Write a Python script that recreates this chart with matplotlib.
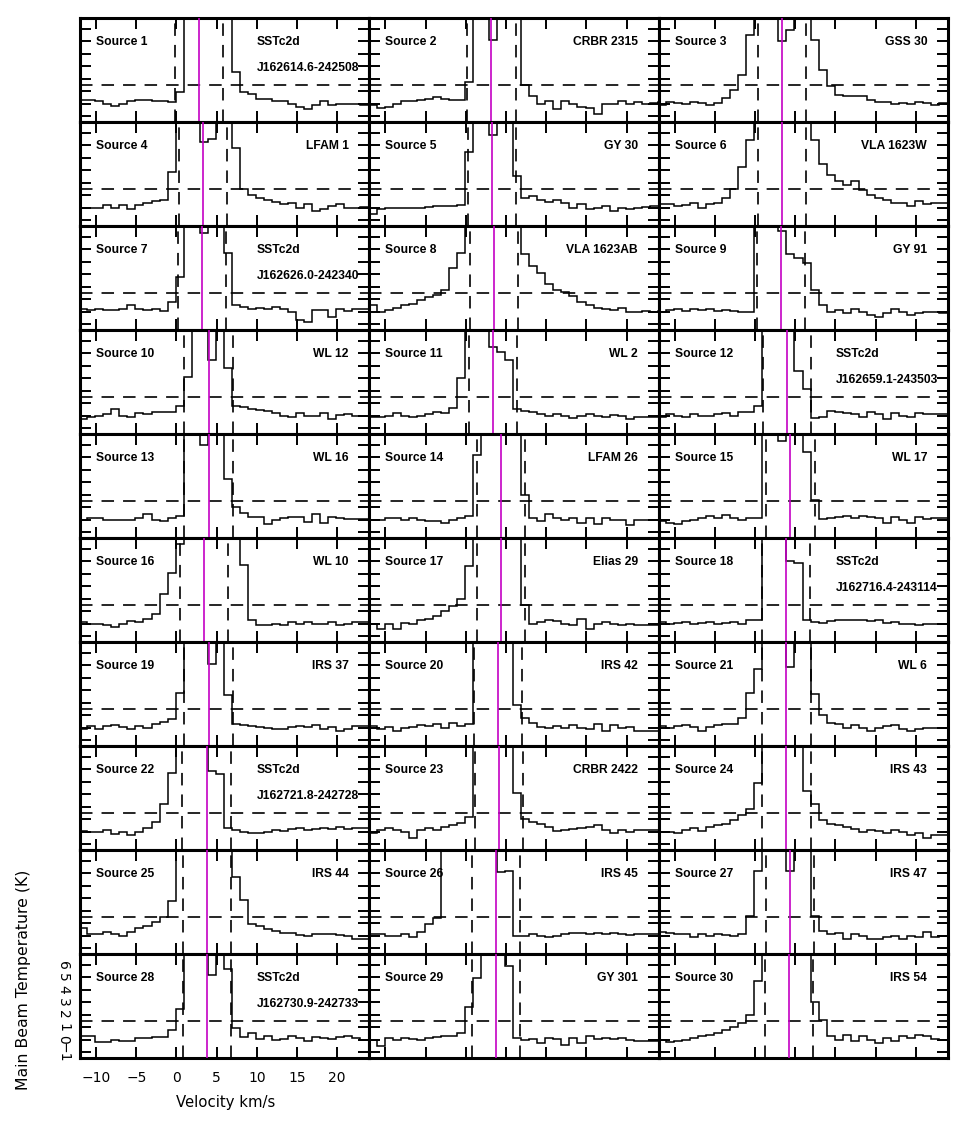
import numpy as np
import matplotlib
matplotlib.use("Agg")
import matplotlib.pyplot as plt

plt.rcParams['lines.scale_dashes'] = False

# channel centres (km/s)
velocity = [-11.6, -10.6, -9.6, -8.6, -7.6, -6.6, -5.6, -4.6, -3.6, -2.6, -1.6, -0.6,
            0.4, 1.4, 2.4, 3.4, 4.4, 5.4, 6.4, 7.4, 8.4, 9.4, 10.4, 11.4, 12.4, 13.4,
            14.4, 15.4, 16.4, 17.4, 18.4, 19.4, 20.4, 21.4, 22.4, 23.4, 24.4]

source_01 = [0.3,0.3,0.2,0.0,-0.2,0.0,0.2,0.25,0.3,0.2,0.2,0.1,0.9,8,8,8,8,8,8,2.5,0.9,0.75,0.35,0.35,0.2,0.2,0.0,-0.3,-0.4,-0.15,0.2,-0.15,0.0,0.0,0.0,-0.1,0.0]
source_02 = [-0.15,-0.35,-0.3,0.0,0.2,0.2,0.3,0.35,0.5,0.35,0.25,0.25,1.7,8,8,5.1,8,8,8,1.5,0.6,0.0,0.2,-0.4,0.2,0.0,-0.3,-0.35,-0.8,0.0,0.0,0.2,0.0,0.1,0.0,0.05,0.1]
source_03 = [-0.1,0.15,0.05,0.0,0.15,0.05,-0.1,0.05,0.45,1.1,2.3,5.5,8,8,8,5.0,5.9,8,8,5.1,2.7,1.4,0.7,0.65,0.65,0.6,0.3,0.15,0.15,0.0,0.05,0.0,0.15,0.05,-0.15,0.05,0.05]
source_04 = [0.0,0.0,0.0,0.2,-0.05,0.2,-0.1,0.2,0.35,0.5,0.6,2.9,8,8,8,5.3,5.55,8,8,4.8,1.5,1.0,0.8,0.6,0.45,0.25,0.35,0.0,0.25,-0.3,-0.1,0.1,0.25,0.0,0.0,0.05,0.0]
source_05 = [-0.5,-0.1,0.0,0.0,0.0,-0.05,0.0,0.05,0.1,0.1,0.15,0.2,4.5,8,8,5.8,8,8,2.5,0.75,0.9,0.65,0.45,0.65,0.35,0.0,0.25,-0.15,0.0,0.1,-0.3,0.0,-0.15,0.0,0.05,0.1,0.1]
source_06 = [0.3,0.25,0.1,0.2,0.35,0.0,0.25,0.35,0.8,1.5,3.3,5.4,8,8,8,8,8,8,8,5.4,3.5,2.6,2.1,1.8,2.1,1.4,1.0,0.8,0.6,0.35,0.35,0.1,0.5,0.25,0.35,0.35,0.4]
source_07 = [0.2,0.1,0.2,0.1,0.1,0.2,0.5,0.2,0.1,0.2,0.05,0.75,2.75,8,8,6.3,8,8,4.7,0.5,0.4,0.2,0.3,0.2,0.4,0.2,0.0,-0.7,-0.8,0.1,0.1,-0.4,0.2,0.05,0.2,0.2,0.2]
source_08 = [0.5,0.0,0.1,0.3,0.5,0.6,0.9,1.15,1.35,1.7,3.5,4.7,8,8,8,8,8,8,8,4.6,3.65,3.1,2.2,1.7,1.55,1.25,0.75,0.5,0.3,0.2,0.1,0.25,0.0,-0.05,0.05,0.0,0.05]
source_09 = [0.0,0.1,0.2,0.05,0.2,0.1,0.2,0.05,0.1,0.05,0.0,0.0,8,8,8,6.5,4.6,4.3,3.9,1.7,0.5,0.0,0.1,-0.15,0.2,0.0,-0.3,-0.4,-0.15,0.2,0.0,-0.3,-0.15,0.0,0.0,-0.1,0.0]
source_10 = [-0.3,-0.1,0.0,0.1,0.5,-0.05,-0.15,0.2,0.1,0.25,0.3,0.3,0.8,3.1,8,8,4.45,8,3.8,0.8,0.7,0.55,0.45,0.35,0.2,0.0,-0.1,0.2,0.0,0.0,0.2,-0.3,0.05,0.1,0.0,0.0,0.0]
source_11 = [-0.15,-0.1,0.0,0.2,0.0,-0.1,0.0,0.1,0.25,0.2,0.65,3.0,8,8,8,5.5,5.1,4.5,0.5,0.35,0.25,0.1,0.0,0.1,0.0,-0.2,0.0,0.1,0.0,-0.15,0.05,-0.05,-0.3,-0.15,-0.1,-0.1,-0.1]
source_12 = [-0.15,0.1,0.0,-0.15,0.1,0.0,-0.05,0.1,0.2,0.0,0.25,0.25,0.8,8,8,8,8,3.6,2.1,-0.2,-0.1,0.35,0.25,0.2,0.1,-0.1,0.25,0.1,-0.3,0.2,0.0,-0.15,0.2,0.1,0.1,0.1,0.1]
source_13 = [-0.05,0.15,0.1,0.0,-0.05,0.0,-0.05,0.1,0.45,-0.05,-0.1,0.1,0.25,8,8,6.0,8,8,3.25,1.0,0.5,0.2,0.2,-0.35,0.0,0.1,0.2,0.2,-0.2,0.45,-0.3,0.2,0.1,0.05,0.05,0.05,0.05]
source_14 = [0.0,-0.05,0.15,0.1,0.0,0.1,-0.05,-0.15,-0.1,-0.25,-0.05,0.15,0.25,5.2,8,8,8,8,8,1.95,0.1,-0.15,0.45,0.1,-0.05,0.15,-0.3,0.15,-0.35,0.1,0.0,0.0,-0.4,-0.05,0.0,0.0,0.0]
source_15 = [-0.1,-0.25,-0.35,-0.15,0.0,0.15,0.25,0.1,0.35,0.15,0.0,0.1,0.1,8,8,6.3,8,8,5.45,1.55,0.05,0.1,0.2,0.3,0.1,0.3,0.2,0.1,-0.25,0.2,0.0,-0.25,0.2,0.05,0.1,0.1,0.1]
source_16 = [0.1,0.0,0.0,-0.1,-0.3,0.0,0.2,0.1,0.35,0.8,2.35,4.1,6.4,8,8,8,8,8,8,8,4.7,0.25,-0.15,-0.15,0.0,-0.15,0.1,0.0,0.1,0.0,0.0,0.1,-0.1,0.0,0.1,0.1,0.1]
source_17 = [0.0,-0.45,0.0,-0.45,0.05,0.0,0.25,0.35,0.65,1.0,1.4,1.95,4.6,8,8,8,8,8,8,1.5,0.0,0.1,0.3,0.2,0.0,-0.15,0.35,-0.45,0.0,0.1,0.0,-0.15,0.0,-0.15,-0.1,-0.1,-0.1]
source_18 = [0.1,0.0,0.05,0.1,0.0,0.05,0.1,-0.05,0.05,0.1,0.0,0.25,0.25,8,8,8,5.0,4.85,0.3,0.1,0.05,0.2,0.25,0.3,0.25,0.3,0.2,0.25,0.05,0.1,0.0,-0.05,-0.15,0.0,0.0,0.0,0.0]
source_19 = [-0.1,0.1,-0.15,0.1,0.2,0.05,-0.1,0.1,-0.05,0.25,0.45,0.7,2.8,8,8,8,5.1,8,2.6,0.3,0.2,0.1,0.05,0.0,-0.1,-0.1,0.05,0.1,0.05,0.2,-0.15,0.05,-0.25,-0.1,0.1,0.1,0.1]
source_20 = [0.1,-0.15,0.05,-0.25,0.0,0.05,0.2,0.1,0.3,0.0,0.35,0.1,0.3,8,8,8,8,8,1.8,0.75,0.35,0.05,0.0,0.1,0.0,0.2,0.0,-0.15,0.25,-0.25,0.2,-0.05,0.05,-0.25,-0.3,-0.3,-0.3]
source_21 = [0.1,-0.05,0.1,0.2,0.05,-0.25,0.05,0.2,0.3,0.3,0.75,2.75,4.7,8,8,8,4.9,8,8,2.7,1.0,0.4,0.25,0.0,0.2,-0.05,-0.25,0.0,0.1,0.2,-0.1,-0.25,-0.1,0.0,0.0,-0.05,-0.05]
source_22 = [0.05,0.0,-0.05,0.1,-0.2,0.0,-0.3,0.0,0.25,0.8,2.2,4.7,8,8,8,8,4.85,4.6,0.25,0.1,0.0,-0.15,-0.15,0.0,0.1,0.05,0.2,0.25,0.1,0.2,0.25,0.2,0.35,0.2,0.3,0.3,0.3]
source_23 = [-0.15,0.1,0.25,0.1,0.0,-0.55,0.1,0.25,0.1,0.35,0.5,0.7,1.15,8,8,8,8,8,3.1,1.0,0.8,0.65,0.4,0.05,0.1,0.2,0.25,0.35,0.5,0.1,-0.1,0.1,0.0,0.1,0.1,0.1,0.1]
source_24 = [0.0,0.0,-0.15,0.1,0.25,0.05,0.35,0.5,0.65,0.9,1.3,1.8,3.9,8,8,8,8,8,3.25,2.2,0.9,0.65,0.5,0.35,0.2,0.0,0.1,0.05,-0.15,0.1,0.0,-0.3,-0.15,-0.55,-0.3,-0.3,-0.3]
source_25 = [0.6,0.1,0.15,0.3,0.15,0.0,0.3,0.6,0.75,1.1,1.5,2.75,8,8,8,8,8,8,8,4.7,2.85,0.9,0.75,0.55,0.35,0.2,0.2,0.05,-0.05,0.1,0.1,0.1,0.05,-0.05,-0.25,-0.25,-0.25]
source_26 = [0.15,0.1,0.0,0.0,0.1,-0.1,0.25,0.9,1.4,8,8,8,8,8,8,8,5.1,5.2,0.0,0.0,0.1,0.0,-0.1,0.0,0.1,0.2,0.2,0.1,0.2,0.1,0.2,0.1,0.05,0.1,0.1,0.1,0.1]
source_27 = [0.25,0.2,0.15,0.1,-0.15,0.15,0.0,0.1,0.05,0.0,0.15,1.55,5.2,8,8,8,5.2,8,8,1.55,0.4,0.1,0.2,-0.3,0.1,0.0,-0.25,-0.3,-0.1,0.0,-0.25,0.0,-0.1,0.25,-0.1,0.0,0.0]
source_28 = [0.25,0.25,-0.2,-0.2,0.0,-0.1,-0.1,0.15,0.15,0.2,0.2,0.75,2.45,8,8,8,5.2,8,5.7,0.95,0.2,0.5,0.05,0.3,0.0,0.05,0.3,0.15,-0.15,0.2,0.15,0.05,0.2,0.25,0.15,0.0,0.0]
source_29 = [0.0,-0.55,0.1,0.0,0.1,0.05,0.0,0.1,0.2,0.25,0.3,0.5,2.6,4.95,8,8,8,5.9,0.1,0.0,0.05,-0.3,0.1,0.05,-0.4,0.1,-0.3,0.25,0.05,0.1,0.05,0.1,0.0,-0.1,-0.1,-0.1,-0.1]
source_30 = [0.0,-0.2,-0.15,0.0,0.1,0.25,0.35,0.5,0.8,1.0,1.35,1.95,4.7,8,8,8,8,8,8,3.0,1.55,0.3,0.0,0.35,-0.15,0.25,0.0,-0.3,0.1,-0.15,0.25,0.1,0.35,0.3,0.05,0.0,0.0]

source_velocity = [2.8, 3.2, 3.3, 3.3, 3.3, 3.3, 3.2, 3.5, 3.2, 4.0,
                   3.35, 4.0, 4.0, 4.4, 4.4, 3.4, 4.4, 3.85, 4.0, 4.0,
                   3.9, 3.75, 4.15, 3.9, 3.8, 3.75, 4.3, 3.8, 3.8, 4.2]

source_names = ["SSTc2d\nJ162614.6-242508", "CRBR 2315", "GSS 30", "LFAM 1", "GY 30",
                "VLA 1623W", "SSTc2d\nJ162626.0-242340", "VLA 1623AB", "GY 91", "WL 12",
                "WL 2", "SSTc2d\nJ162659.1-243503", "WL 16", "LFAM 26", "WL 17",
                "WL 10", "Elias 29", "SSTc2d\nJ162716.4-243114", "IRS 37", "IRS 42",
                "WL 6", "SSTc2d\nJ162721.8-242728", "CRBR 2422", "IRS 43", "IRS 44",
                "IRS 45", "IRS 47", "SSTc2d\nJ162730.9-242733", "GY 301", "IRS 54"]

threshold = 1.5
window_half = 3.0

spectra = [source_01, source_02, source_03, source_04, source_05, source_06,
           source_07, source_08, source_09, source_10, source_11, source_12,
           source_13, source_14, source_15, source_16, source_17, source_18,
           source_19, source_20, source_21, source_22, source_23, source_24,
           source_25, source_26, source_27, source_28, source_29, source_30]

vel = np.array(velocity)
edges = np.concatenate([vel - 0.5, [vel[-1] + 0.5]])

W, H = 969, 1133
fig = plt.figure(figsize=(W / 100, H / 100), dpi=100)
axes = fig.subplots(10, 3)
fig.subplots_adjust(left=80 / W, right=948 / W, top=1 - 18 / H, bottom=1 - 1058 / H,
                    wspace=0, hspace=0)

dash = (0, (9.0, 6.5))
lab_font = dict(family=['Liberation Sans', 'DejaVu Sans'], fontweight='bold', fontsize=8.7)

for i, spec in enumerate(spectra):
    ax = axes[i // 3][i % 3]
    vs = source_velocity[i]
    ax.stairs(spec, edges, baseline=None, color='black', lw=1.1, zorder=3)
    ax.axvline(vs, color='#c400c4', lw=1.2, zorder=4)
    ax.axvline(vs - window_half, color='black', lw=1.2, ls=dash, zorder=2)
    ax.axvline(vs + window_half, color='black', lw=1.2, ls=dash, zorder=2)
    ax.axhline(threshold, color='black', lw=1.2, ls=dash, zorder=2)
    ax.set_xlim(-12, 24)
    ax.set_ylim(-1.48, 6.88)
    ax.set_xticks([-10, -5, 0, 5, 10, 15, 20])
    ax.set_yticks([-1, 0, 1, 2, 3, 4, 5, 6])
    ax.tick_params(direction='in', length=8, width=1.4, top=True, right=True,
                   labelbottom=False, labelleft=False, labelsize=10)
    ax.tick_params(axis='x', pad=9)
    ax.tick_params(axis='y', pad=7)
    for s in ax.spines.values():
        s.set_linewidth(2.2)
    ax.text(0.055, 0.77, f"Source {i + 1}", transform=ax.transAxes,
            ha='left', va='center', **lab_font)
    name = source_names[i]
    if "\n" in name:
        l1, l2 = name.split("\n")
        ax.text(0.612, 0.77, l1, transform=ax.transAxes, ha='left', va='center', **lab_font)
        ax.text(0.612, 0.52, l2, transform=ax.transAxes, ha='left', va='center', **lab_font)
    else:
        ax.text(0.928, 0.77, name, transform=ax.transAxes, ha='right', va='center', **lab_font)

ax0 = axes[9][0]
ax0.tick_params(labelbottom=True, labelleft=True)
for lbl in ax0.get_yticklabels():
    lbl.set_rotation(-90)
    lbl.set_va('center')
    lbl.set_ha('right')

fig.text(226 / W, 1 - 1103 / H, "Velocity km/s", ha='center', va='center', fontsize=10.7)
fig.text(24 / W, 1 - 980 / H, "Main Beam Temperature (K)", rotation=90,
         ha='center', va='center', fontsize=11.3)

fig.savefig("out.png", dpi=100)
